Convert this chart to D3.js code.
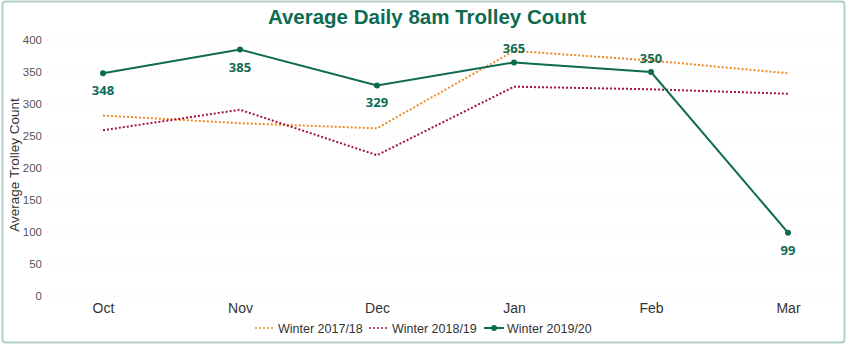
<!DOCTYPE html>
<html><head><meta charset="utf-8">
<script src="https://cdn.jsdelivr.net/npm/d3@7"></script>
<style>body{margin:0;background:#fff;font-family:"Liberation Sans",Arial,sans-serif}</style>
</head><body>
<svg id="c" width="850" height="348"></svg>
<script>
const months = ["Oct","Nov","Dec","Jan","Feb","Mar"];
const winter1718 = [282, 270, 262, 383, 368, 348];
const winter1819 = [259, 291, 220, 327, 323, 316];
const winter1920 = [348, 385, 329, 365, 350, 99];
const yTicks = [0,50,100,150,200,250,300,350,400];
const seriesNames = ["Winter 2017/18","Winter 2018/19","Winter 2019/20"];
const labelPos = ["below","below","below","above","above","below"];

const svg = d3.select("#c");
svg.append("rect").attr("x",2.5).attr("y",1.5).attr("width",842).attr("height",341)
  .attr("rx",3).attr("fill","#fff").attr("stroke","#b3cfcb").attr("stroke-width",2);

const x = d3.scalePoint().domain(months).range([103, 788]);
const y = d3.scaleLinear().domain([0,400]).range([296, 40]);

svg.append("text").attr("x",427).attr("y",24).attr("text-anchor","middle")
  .attr("font-size",20.5).attr("font-weight","bold").attr("fill","#0e6b52")
  .attr("font-family","'Liberation Sans',Arial,sans-serif")
  .text("Average Daily 8am Trolley Count");

// grid
const g = svg.append("g");
g.selectAll("line.grid").data(yTicks).join("line")
  .attr("x1",46).attr("x2",838).attr("y1",d=>y(d)).attr("y2",d=>y(d))
  .attr("stroke","#dcdcdc").attr("stroke-width",1).attr("stroke-dasharray","1,3");

const yAxis = d3.axisLeft(y).tickValues(yTicks).tickSize(0).tickPadding(0);
const ya = svg.append("g").attr("transform","translate(42,0)").call(yAxis);
ya.select(".domain").remove();
ya.selectAll("text").attr("font-size",11.5).attr("fill","#555").attr("font-family","'Liberation Sans',Arial,sans-serif");

const xAxis = d3.axisBottom(x).tickSize(0).tickPadding(0);
const xa = svg.append("g").attr("transform","translate(0,303)").call(xAxis);
xa.select(".domain").remove();
xa.selectAll("text").attr("font-size",14).attr("fill","#333").attr("font-family","'Liberation Sans',Arial,sans-serif");

svg.append("text").attr("transform","translate(19,165) rotate(-90)").attr("text-anchor","middle")
  .attr("font-size",13.5).attr("fill","#333").text("Average Trolley Count");

const line = d3.line().x((d,i)=>x(months[i])).y(d=>y(d));
svg.append("path").datum(winter1718).attr("d",line).attr("fill","none")
  .attr("stroke","#f08a24").attr("stroke-width",2).attr("stroke-dasharray","2,2");
svg.append("path").datum(winter1819).attr("d",line).attr("fill","none")
  .attr("stroke","#a3123f").attr("stroke-width",2).attr("stroke-dasharray","2,2");
svg.append("path").datum(winter1920).attr("d",line).attr("fill","none")
  .attr("stroke","#0e6b52").attr("stroke-width",2);
svg.selectAll("circle.pt").data(winter1920).join("circle")
  .attr("cx",(d,i)=>x(months[i])).attr("cy",d=>y(d)).attr("r",3).attr("fill","#0e6b52");
svg.selectAll("text.lbl").data(winter1920).join("text")
  .attr("x",(d,i)=>x(months[i]))
  .attr("y",(d,i)=>labelPos[i]==="below"? y(d)+22 : y(d)-9)
  .attr("text-anchor","middle").attr("font-size",13).attr("font-weight","bold")
  .attr("font-family","'Open Sans',sans-serif").attr("fill","#0e6b52").text(d=>d);

// legend
const lg = svg.append("g").attr("font-size",12.5).attr("fill","#333");
const legendItems = [
  {name:seriesNames[0], color:"#f08a24", dash:"2,2", dot:false, x:255},
  {name:seriesNames[1], color:"#a3123f", dash:"2,2", dot:false, x:369},
  {name:seriesNames[2], color:"#0e6b52", dash:null, dot:true, x:484}
];
legendItems.forEach(it=>{
  lg.append("line").attr("x1",it.x).attr("x2",it.x+20).attr("y1",328).attr("y2",328)
    .attr("stroke",it.color).attr("stroke-width",it.dot?2:1.5).attr("stroke-dasharray",it.dash);
  if(it.dot) lg.append("circle").attr("cx",it.x+10).attr("cy",328).attr("r",3).attr("fill",it.color);
  lg.append("text").attr("x",it.x+23).attr("y",332.5).text(it.name);
});
</script>
</body></html>
